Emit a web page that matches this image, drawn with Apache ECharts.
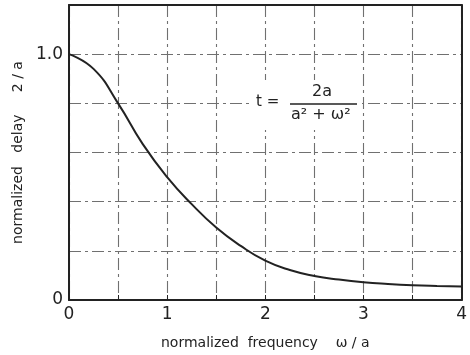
<!DOCTYPE html>
<html>
<head>
<meta charset="utf-8">
<script src="https://cdn.jsdelivr.net/npm/echarts@6/dist/echarts.min.js"></script>
<style>
  html, body { margin: 0; padding: 0; background: #fff; }
  #delay { width: 470px; height: 355px; }
</style>
</head>
<body>
<div id="delay"></div>
<script>
// normalized frequency w/a (x) and normalized delay (y)
var freq = [0, 0.25, 0.5, 0.75, 1.0, 1.25, 1.5, 1.75, 2.0, 2.25, 2.5, 2.75, 3.0, 3.25, 3.5, 3.75, 4.0];
var delay = [1.0, 0.94, 0.80, 0.635, 0.50, 0.39, 0.295, 0.22, 0.16, 0.122, 0.098, 0.083, 0.072, 0.065, 0.06, 0.057, 0.055];
var yTicks = { 0: '0', 1: '1.0' };

var chart = echarts.init(document.getElementById('delay'));

var pts = [];
for (var i = 0; i < freq.length; i++) {
    pts.push([freq[i], delay[i]]);
}

var gridStyle = { color: '#707070', width: 1.1, type: [12, 4, 3, 4] };
var font = 'DejaVu Sans';
var frame = { show: true, onZero: false, lineStyle: { color: '#222', width: 2 } };

var option = {
    backgroundColor: '#fff',
    animation: false,
    grid: { left: 69, right: 6, top: 5, bottom: 53 },
    xAxis: [{
        type: 'value',
        min: 0, max: 4, interval: 0.5,
        name: 'normalized  frequency    ω / a',
        nameLocation: 'middle',
        nameGap: 36,
        nameTextStyle: { fontFamily: font, fontSize: 14, color: '#222' },
        axisLine: frame,
        axisTick: { inside: true, length: 5, lineStyle: { color: '#222' } },
        axisLabel: {
            fontFamily: font, fontSize: 17, color: '#222', margin: 6,
            formatter: function (v) { return v % 1 === 0 ? String(v) : ''; }
        },
        splitLine: { show: true, lineStyle: gridStyle }
    }, {
        // top frame line
        type: 'value', position: 'top',
        min: 0, max: 4,
        axisLine: frame, axisTick: { show: false },
        axisLabel: { show: false }, splitLine: { show: false }
    }],
    yAxis: [{
        type: 'value',
        min: 0, max: 1.2, interval: 0.2,
        name: 'normalized   delay     2 / a',
        nameLocation: 'middle',
        nameGap: 38,
        nameTextStyle: { fontFamily: font, fontSize: 14, color: '#222' },
        axisLine: frame,
        axisTick: { show: false },
        axisLabel: {
            fontFamily: font, fontSize: 17, color: '#222', margin: 6,
            formatter: function (v) {
                var k = Math.round(v * 10) / 10;
                return yTicks[k] || '';
            }
        },
        splitLine: { show: true, lineStyle: gridStyle }
    }, {
        // right frame line
        type: 'value', position: 'right',
        min: 0, max: 1.2,
        axisLine: frame, axisTick: { show: false },
        axisLabel: { show: false }, splitLine: { show: false }
    }],
    graphic: [
        { type: 'rect', shape: { x: 250, y: 80, width: 112, height: 50 }, style: { fill: '#fff' }, z: 50 },
        { type: 'text', left: 256, top: 95, z: 51,
          style: { text: 't =', font: '15px DejaVu Sans', fill: '#222' } },
        { type: 'text', left: 312, top: 84, z: 51,
          style: { text: '2a', font: '16px DejaVu Sans', fill: '#222' } },
        { type: 'line', z: 51, shape: { x1: 290, y1: 104, x2: 357, y2: 104 },
          style: { stroke: '#222', lineWidth: 1.5 } },
        { type: 'text', left: 291, top: 107, z: 51,
          style: { text: 'a² + ω²', font: '16px DejaVu Sans', fill: '#222' } }
    ],
    series: [{
        type: 'line',
        data: pts,
        smooth: true,
        showSymbol: false,
        lineStyle: { color: '#222', width: 2 },
        z: 10
    }]
};

chart.setOption(option);
</script>
</body>
</html>
